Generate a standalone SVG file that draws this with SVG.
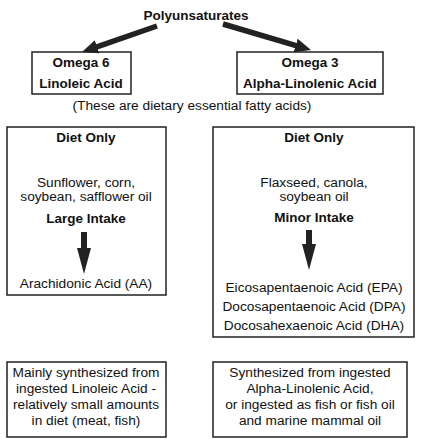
<svg xmlns="http://www.w3.org/2000/svg" width="427" height="439" viewBox="0 0 427 439">
<style>
text{font-family:"Liberation Sans",Arial,sans-serif;fill:#111;text-anchor:middle}
.b{font-weight:bold;font-size:13.5px}
.r{font-size:13.7px}
.box{fill:#fff;stroke:#222;stroke-width:1.5}
.arr{stroke:#222;fill:none}
</style>
<defs>
<marker id="h1" markerUnits="userSpaceOnUse" markerWidth="16" markerHeight="14" refX="4" refY="7" orient="auto"><path d="M0,0 L16,7 L0,14 z" fill="#222"/></marker>
<marker id="h2" markerUnits="userSpaceOnUse" markerWidth="26" markerHeight="14" refX="2" refY="7" orient="auto"><path d="M0,0 L26,7 L0,14 z" fill="#222"/></marker>
</defs>
<rect width="427" height="439" fill="#fff"/>
<g id="title"><text class="b" x="196" y="20">Polyunsaturates</text></g>
<g id="omega6">
<rect class="box" x="32" y="52" width="99" height="42"/>
<text class="b" x="81" y="67">Omega 6</text>
<text class="b" x="81" y="88">Linoleic Acid</text>
</g>
<g id="omega3">
<rect class="box" x="237" y="52" width="146" height="42"/>
<text class="b" x="310" y="67">Omega 3</text>
<text class="b" x="310" y="88">Alpha-Linolenic Acid</text>
</g>
<g id="note"><text class="r" x="192" y="110">(These are dietary essential fatty acids)</text></g>
<g id="diet6">
<rect class="box" x="7" y="127" width="159" height="168"/>
<text class="b" x="86" y="142">Diet Only</text>
<text class="r" x="86" y="187">Sunflower, corn,</text>
<text class="r" x="86" y="201">soybean, safflower oil</text>
<text class="b" x="86" y="223">Large Intake</text>
<text class="r" x="86" y="288">Arachidonic Acid (AA)</text>
</g>
<g id="diet3">
<rect class="box" x="213" y="127" width="201" height="210"/>
<text class="b" x="314" y="142">Diet Only</text>
<text class="r" x="314" y="187">Flaxseed, canola,</text>
<text class="r" x="314" y="201">soybean oil</text>
<text class="b" x="314" y="222">Minor Intake</text>
<text class="r" x="314" y="292">Eicosapentaenoic Acid (EPA)</text>
<text class="r" x="314" y="311">Docosapentaenoic Acid (DPA)</text>
<text class="r" x="314" y="330">Docosahexaenoic Acid (DHA)</text>
</g>
<g id="synth6">
<rect class="box" x="7" y="362" width="159" height="75"/>
<text class="r" x="86" y="377">Mainly synthesized from</text>
<text class="r" x="86" y="393">ingested Linoleic Acid -</text>
<text class="r" x="86" y="409">relatively small amounts</text>
<text class="r" x="86" y="425">in diet (meat, fish)</text>
</g>
<g id="synth3">
<rect class="box" x="213" y="362" width="194" height="75"/>
<text class="r" x="310" y="377">Synthesized from ingested</text>
<text class="r" x="310" y="393">Alpha-Linolenic Acid,</text>
<text class="r" x="310" y="409">or ingested as fish or fish oil</text>
<text class="r" x="310" y="425">and marine mammal oil</text>
</g>
<g id="connectors">
<line class="arr" x1="157" y1="26" x2="93.3" y2="48.1" stroke-width="5.5" marker-end="url(#h1)"/>
<line class="arr" x1="223" y1="24" x2="299.5" y2="46.6" stroke-width="5.5" marker-end="url(#h1)"/>
<line class="arr" x1="84" y1="232" x2="84" y2="250" stroke-width="6" marker-end="url(#h2)"/>
<line class="arr" x1="309" y1="230" x2="309" y2="246" stroke-width="6" marker-end="url(#h2)"/>
</g>
</svg>
